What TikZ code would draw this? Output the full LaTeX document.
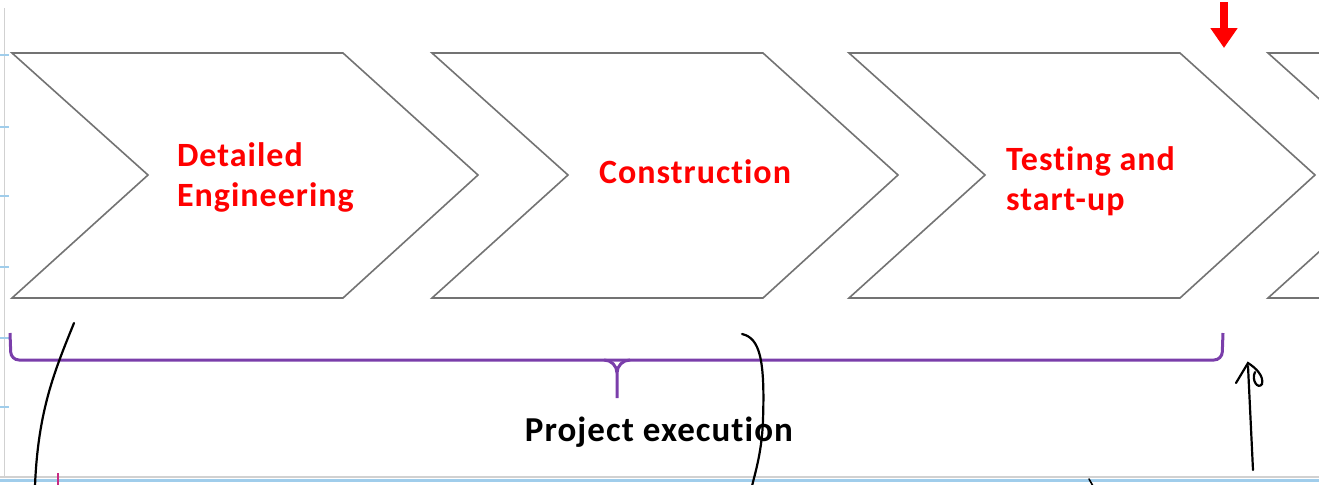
\documentclass[tikz,border=0pt]{standalone}
\usepackage{fontspec}
\setmainfont{Carlito}[LetterSpace=3,Ligatures={NoCommon}]
\usepackage{tikz}
\usetikzlibrary{arrows.meta,positioning}
\definecolor{bracecol}{RGB}{122,62,170}
\definecolor{gridcol}{RGB}{160,205,235}

\begin{document}
\begin{tikzpicture}[x=0.5pt,y=-0.5pt, every node/.style={font=\bfseries\fontsize{17}{20}\selectfont},
  stagebox/.style={draw=black!55,line width=0.8pt,fill=white,line join=miter},
  stagelbl/.style={text=red,align=left,anchor=west},
  hand/.style={black,line width=1.1pt,line cap=round}]
  \useasboundingbox (0,0) rectangle (1319,484);
  \clip (0,0) rectangle (1319,484);
  \draw[black!18,line width=0.8pt] (4.5,8) -- (4.5,477);
  \foreach \y in {55,127,196,267,338,407}
    \draw[gridcol,line width=0.8pt] (0,\y) -- (9,\y);
  \draw[black!18,line width=0.6pt] (0,477) -- (1319,477);
  \draw[gridcol,line width=1.4pt] (0,480.5) -- (1319,480.5);
  \foreach \x in {12,432,849,1268}
    \draw[stagebox] (\x,53) -- ++(331,0) -- ++(135,122) -- ++(-135,123) -- ++(-331,0) -- ++(136,-123) -- cycle;
  \node[stagelbl] (detail) at (170,177) {Detailed\\Engineering};
  \node[stagelbl] (constr) at (592,172) {Construction};
  \node[stagelbl] (testing) at (999,181) {Testing and\\start-up};
  \draw[bracecol,line width=1.5pt,rounded corners=4pt] (10,333) -- (11,360) -- (1222,360) -- (1223,333);
  \draw[bracecol,line width=1.5pt] (604,360) to[out=0,in=90] (617,373) -- (617,398)
    (630,360) to[out=180,in=90] (617,373);
  \node[font=\bfseries\fontsize{17.5}{20}\selectfont] (exec) at (659,432) {Project execution};
  \coordinate (redtop) at (1224,2);
  \coordinate (redtip) at (1224,48);
  \draw[red,line width=4pt,-{Triangle[width=13pt,length=10pt]}] (redtop) -- (redtip);
  \draw[hand] (74,323) .. controls (55,370) and (38,410) .. (35,486);
  \draw[hand] (742,334) .. controls (760,338) and (765,360) .. (763,420) .. controls (762,450) and (756,470) .. (752,486);
  \draw[hand] (1253,470) -- (1248,366);
  \draw[hand] (1236,383) -- (1248,363) .. controls (1256,368) and (1264,376) .. (1262,384) .. controls (1258,390) and (1251,380) .. (1255,372);
  \draw[hand,line width=0.8pt] (1089,479) -- (1093,486);
  \draw[magenta!60!violet,line width=0.8pt] (58,473) -- (58,486);
\end{tikzpicture}
\end{document}
